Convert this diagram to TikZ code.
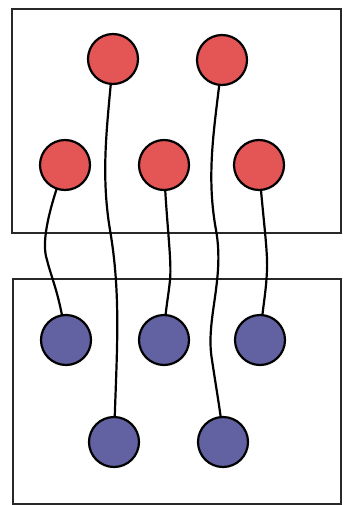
\documentclass[tikz,border=0pt]{standalone}
\usetikzlibrary{calc}
\definecolor{redball}{RGB}{228,86,86}
\definecolor{blueball}{RGB}{98,98,162}
\definecolor{boxline}{RGB}{40,40,40}
\begin{document}
\begin{tikzpicture}[x=1pt,y=-1pt,
  ball/.style={circle,draw=black,line width=2.2pt,minimum size=50pt,inner sep=0pt},
  rball/.style={ball,fill=redball},
  bball/.style={ball,fill=blueball},
  frame/.style={draw=boxline,line width=1.3pt},
  strand/.style={draw=black,line width=2.2pt}]
\useasboundingbox (0,0) rectangle (347,505);
\fill[white] (0,0) rectangle (347,505);
% boxes
\draw[frame] (12,9) rectangle (341,233);
\draw[frame] (13,279) rectangle (341,504);
% strands (drawn first, under the balls)
\coordinate (a) at (113,59);
\coordinate (b) at (222,60);
\coordinate (c) at (65,165);
\coordinate (d) at (164,165);
\coordinate (e) at (259,165);
\coordinate (f) at (66,340);
\coordinate (g) at (164,340);
\coordinate (h) at (260,340);
\coordinate (i) at (114,442);
\coordinate (j) at (223,442);
\draw[strand] (c) .. controls (52,200) and (40,240) .. (47,260) .. controls (52,280) and (60,295) .. (f);
\draw[strand] (a) .. controls (108,120) and (100,170) .. (110,230) .. controls (122,300) and (116,360) .. (i);
\draw[strand] (d) .. controls (166,220) and (172,260) .. (170,280) .. controls (168,300) and (165,310) .. (g);
\draw[strand] (b) .. controls (216,120) and (205,170) .. (216,230) .. controls (225,280) and (205,320) .. (212,360) .. controls (218,400) and (222,420) .. (j);
\draw[strand] (e) .. controls (262,210) and (268,250) .. (267,270) .. controls (266,295) and (262,310) .. (h);
% balls
\node[rball] (A) at (a) {};
\node[rball] (B) at (b) {};
\node[rball] (C) at (c) {};
\node[rball] (D) at (d) {};
\node[rball] (E) at (e) {};
\node[bball] (F) at (f) {};
\node[bball] (G) at (g) {};
\node[bball] (H) at (h) {};
\node[bball] (I) at (i) {};
\node[bball] (J) at (j) {};
\end{tikzpicture}
\end{document}
